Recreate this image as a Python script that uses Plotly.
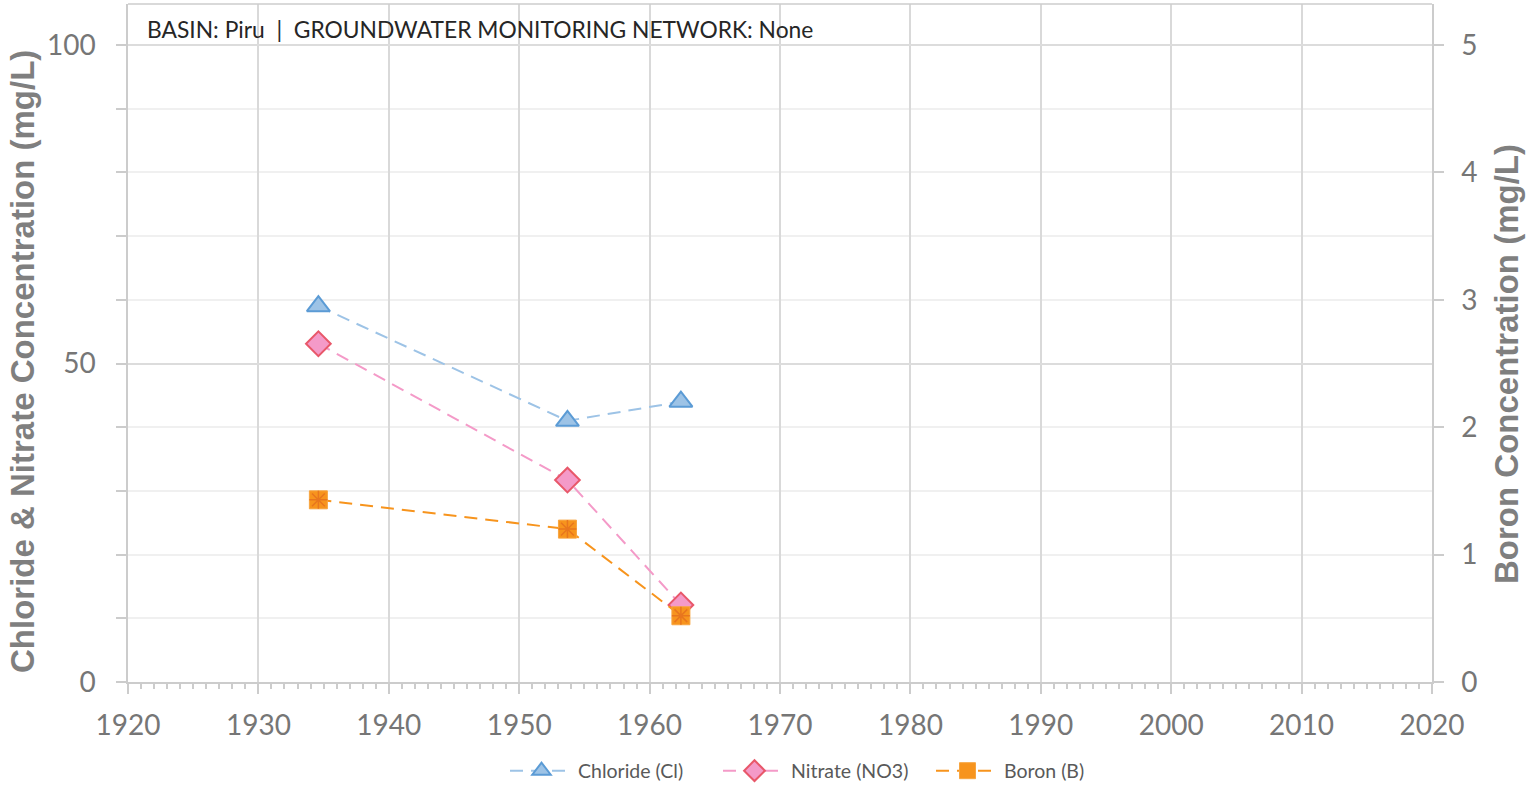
import plotly.graph_objects as go

years_cl = [1934.6, 1953.7, 1962.4]
chloride = [59.0, 41.0, 44.0]
years_no3 = [1934.6, 1953.7, 1962.4]
nitrate = [53.1, 31.7, 12.1]
years_b = [1934.6, 1953.7, 1962.4]
boron = [1.43, 1.20, 0.52]

x_ticks = list(range(1920, 2021, 10))
left_ticks = [0, 50, 100]
right_ticks = [0, 1, 2, 3, 4, 5]

W, H = 1540, 785
ML, MR, MT, MB = 128, 108, 4, 103
PW, PH = W - ML - MR, H - MT - MB

TICK_FONT = dict(family="Lato, Open Sans, sans-serif", size=28, color="#767676")
AX_TITLE_FONT = dict(family="Liberation Sans, Arial, sans-serif", size=33, color="#7F7F7F")
DASH = "13px,8px"

fig = go.Figure()

fig.add_trace(go.Scatter(
    x=years_cl, y=chloride, name="Chloride (Cl)", mode="lines+markers",
    line=dict(color="#9DC3E6", width=2, dash=DASH),
    marker=dict(symbol="triangle-up", size=20, color="#9DC3E6",
                line=dict(color="#5B9BD5", width=2)),
))
fig.add_trace(go.Scatter(
    x=years_no3, y=nitrate, name="Nitrate (NO3)", mode="lines+markers",
    line=dict(color="#F49AC8", width=2, dash=DASH),
    marker=dict(symbol="diamond", size=19, color="#F49AC8",
                line=dict(color="#E8586A", width=2)),
))
fig.add_trace(go.Scatter(
    x=years_b, y=boron, name="Boron (B)", mode="lines+markers", yaxis="y2",
    line=dict(color="#F7941D", width=2, dash=DASH),
    marker=dict(symbol="square", size=18, color="#F7941D",
                line=dict(color="#F7A540", width=1)),
    legendgroup="b",
))
fig.add_trace(go.Scatter(
    x=years_b, y=boron, mode="markers", yaxis="y2", showlegend=False,
    marker=dict(symbol="asterisk-open", size=15, color="#E8761E",
                line=dict(color="#E8761E", width=1.5)),
    legendgroup="b", hoverinfo="skip",
))

# 0..100 maps to page y 682..45, plot area top at page y 4
y1_top = 100 * PH / (682 - 45)
y2_top = 5 * PH / (682 - 45)

fig.update_layout(
    width=W, height=H,
    margin=dict(l=ML, r=MR, t=MT, b=MB, autoexpand=False),
    plot_bgcolor="white", paper_bgcolor="white",
    showlegend=True,
    legend=dict(orientation="h", xref="container", yref="container",
                x=505 / W, xanchor="left", y=1 - 771 / H, yanchor="middle",
                font=dict(family="Lato, Open Sans, sans-serif", size=19.5, color="#595959"),
                itemwidth=63, entrywidth=135, entrywidthmode="pixels", tracegroupgap=0),
    xaxis=dict(
        range=[1920, 2020], tickvals=x_ticks, showgrid=True, gridcolor="#D9D9D9", gridwidth=1.5,
        showline=True, linecolor="#CCCCCC", linewidth=1.5, mirror=False, automargin=False,
        ticks="outside", ticklen=10, tickcolor="#CCCCCC", tickwidth=1.5,
        tickfont=TICK_FONT, ticklabelstandoff=8,
        minor=dict(dtick=1, ticks="outside", ticklen=5, tickcolor="#CCCCCC", showgrid=False),
        zeroline=False,
    ),
    yaxis=dict(
        range=[0, y1_top], tickvals=left_ticks, showgrid=True, gridcolor="#DCDCDC", gridwidth=1.5,
        showline=True, linecolor="#CCCCCC", linewidth=1.5, automargin=False,
        ticks="outside", ticklen=10, tickcolor="#CCCCCC", tickwidth=1.5,
        tickfont=TICK_FONT, ticklabelstandoff=15,
        minor=dict(tickvals=list(range(0, 101, 10)), ticks="outside", ticklen=10,
                   tickcolor="#CCCCCC", showgrid=True, gridcolor="#F0F0F0", gridwidth=1.5),
        zeroline=False,
    ),
    yaxis2=dict(
        range=[0, y2_top], tickvals=right_ticks, overlaying="y", side="right",
        showgrid=False, showline=True, linecolor="#CCCCCC", linewidth=1.5, automargin=False,
        ticks="outside", ticklen=10, tickcolor="#CCCCCC", tickwidth=1.5,
        tickfont=TICK_FONT, ticklabelstandoff=12,
        zeroline=False,
    ),
)

fig.add_shape(type="line", xref="paper", yref="paper", x0=0, x1=1, y0=1, y1=1,
              line=dict(color="#CCCCCC", width=1.5))

fig.add_annotation(
    text="BASIN: Piru  |  GROUNDWATER MONITORING NETWORK: None",
    xref="paper", yref="paper", x=17 / PW, y=1 - 25 / PH, xanchor="left", yanchor="middle",
    showarrow=False, font=dict(family="Lato, Open Sans, sans-serif", size=22.8, color="#262626"),
)
fig.add_annotation(
    text="<b>Chloride & Nitrate Concentration (mg/L)</b>", textangle=-90,
    xref="paper", yref="paper", x=(22 - ML) / PW, y=(682 - 362) / PH,
    xanchor="center", yanchor="middle", showarrow=False, font=AX_TITLE_FONT,
)
fig.add_annotation(
    text="<b>Boron Concentration (mg/L)</b>", textangle=-90,
    xref="paper", yref="paper", x=(1507 - ML) / PW, y=(682 - 364) / PH,
    xanchor="center", yanchor="middle", showarrow=False, font=AX_TITLE_FONT,
)

fig.write_html("out.html", config={"displayModeBar": False},
               post_script="document.body.style.margin='0';")
